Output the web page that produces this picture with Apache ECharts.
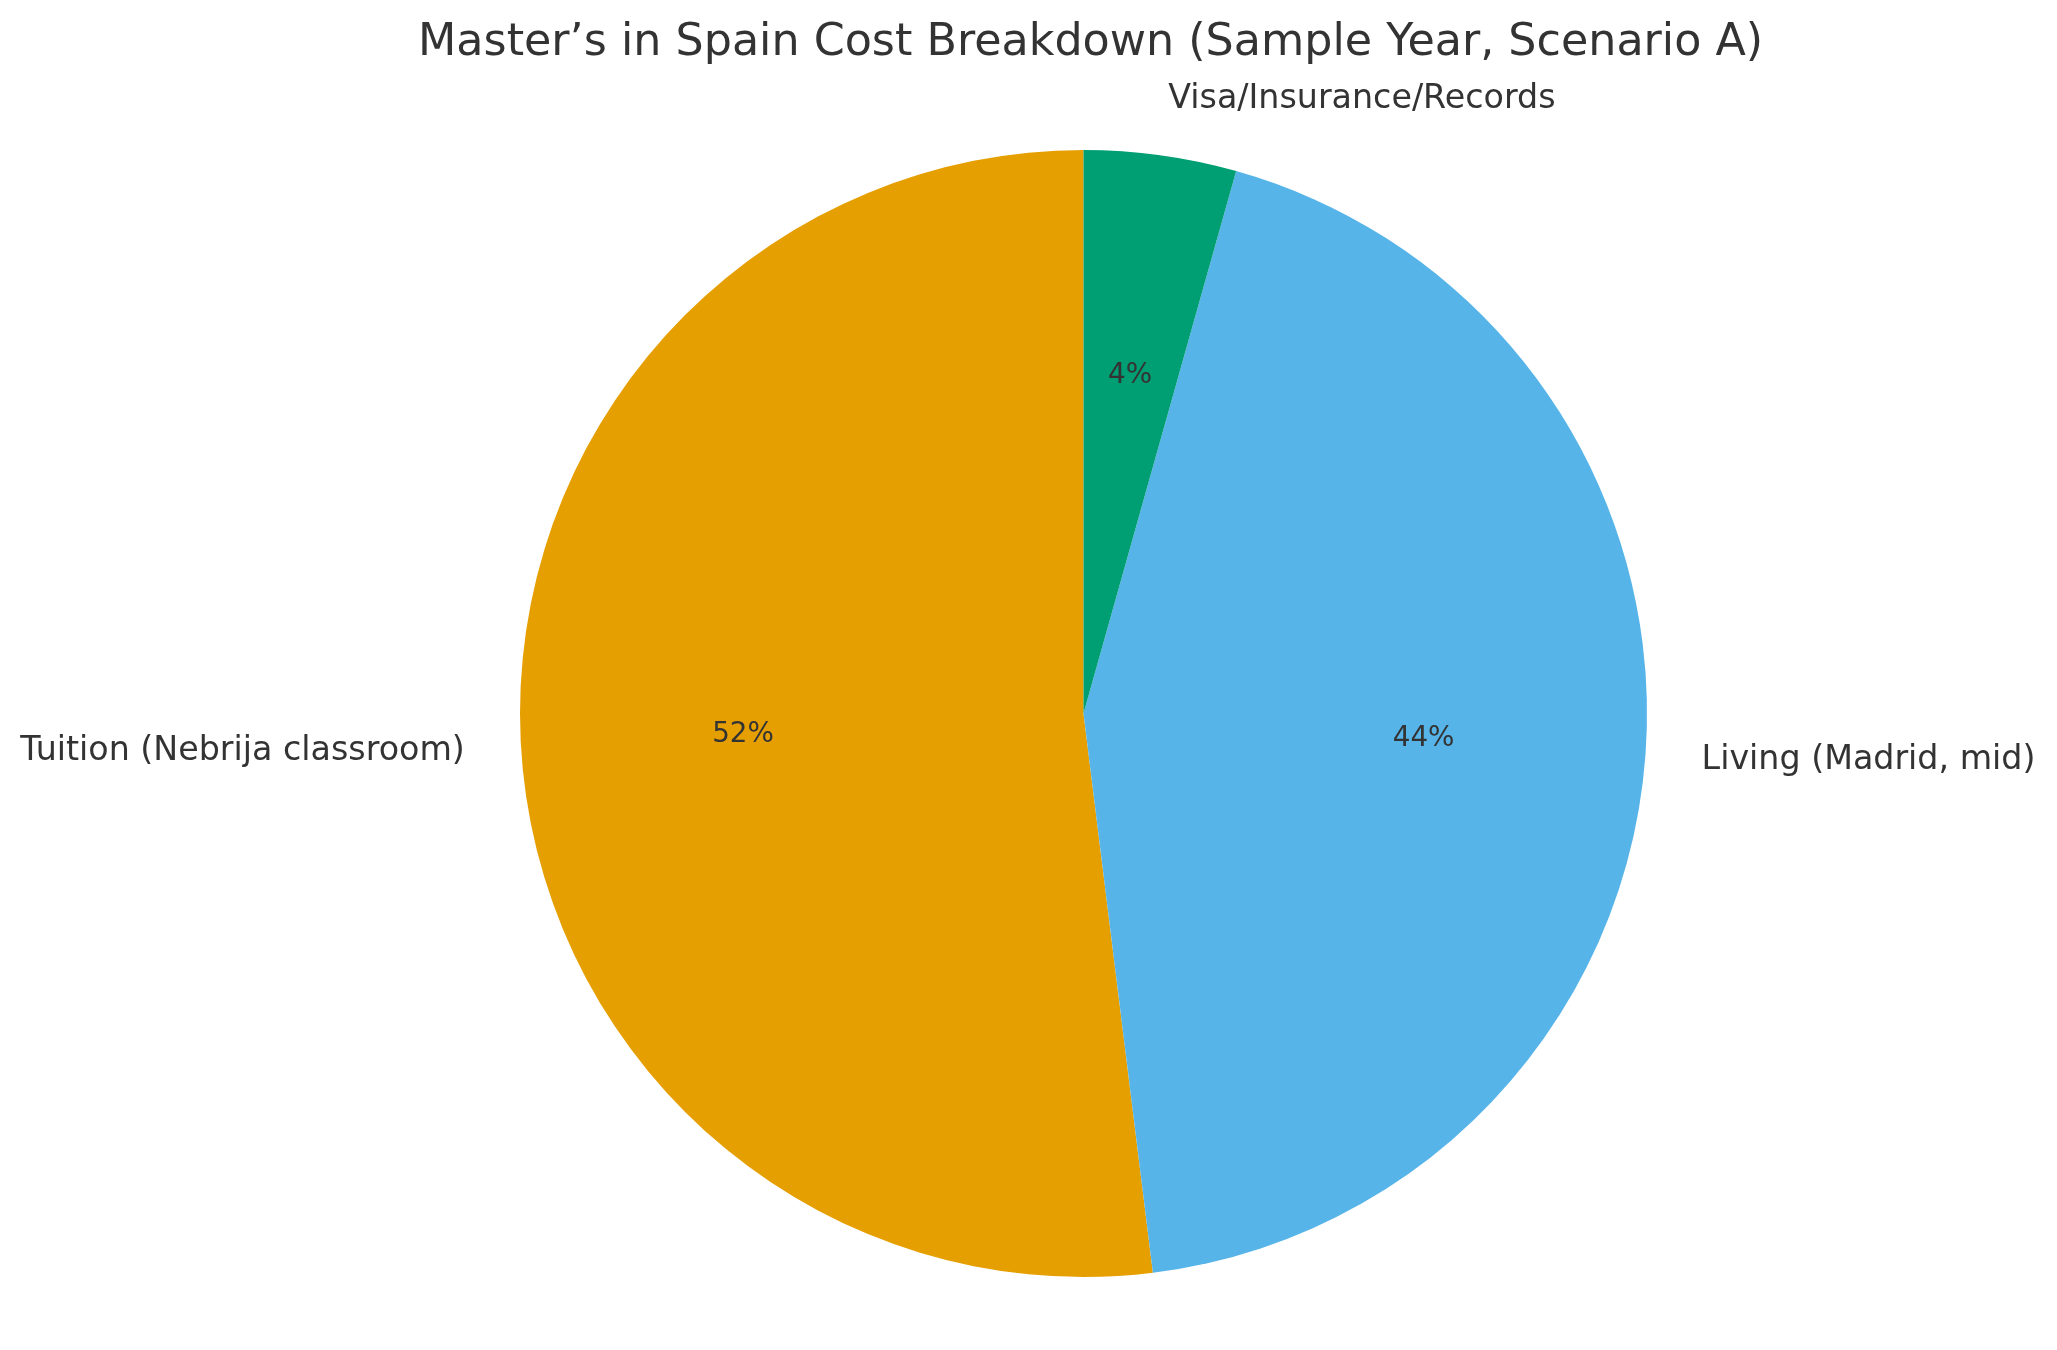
<!DOCTYPE html>
<html>
<head>
<meta charset="utf-8">
<title>Master’s in Spain Cost Breakdown</title>
<script src="https://cdn.jsdelivr.net/npm/echarts@6/dist/echarts.min.js"></script>
<style>
  html, body { margin: 0; padding: 0; background: #fff; }
  #chart { width: 2057px; height: 1350px; }
</style>
</head>
<body>
<div id="chart"></div>
<script>
// cost items (EUR), drawn counter-clockwise from 12 o'clock
var categories = ['Tuition (Nebrija classroom)', 'Living (Madrid, mid)', 'Visa/Insurance/Records'];
var costs = [11900, 10000, 1000];
var colors = ['#E69F00', '#56B4E9', '#009E73'];

var textColor = '#333333';
var fontFamily = 'DejaVu Sans';
var center = [1083.5, 713.5];
var radius = 563.5;

var chart = echarts.init(document.getElementById('chart'));

var pieData = categories.map(function(name, i) {
  return { name: name, value: costs[i], itemStyle: { color: colors[i] } };
});

var option = {
  backgroundColor: '#ffffff',
  animation: false,
  title: {
    text: 'Master’s in Spain Cost Breakdown (Sample Year, Scenario A)',
    // centred over the pie, not the page
    left: 413,
    top: 16,
    textStyle: {
      color: textColor,
      fontFamily: fontFamily,
      fontSize: 44.4,
      fontWeight: 'normal'
    }
  },
  series: [{
    // wedges + category labels at 1.1 r
    type: 'pie',
    center: center,
    radius: [0, radius],
    startAngle: 90,
    clockwise: false,
    avoidLabelOverlap: false,
    silent: true,
    data: pieData,
    itemStyle: { borderWidth: 0 },
    label: {
      show: true,
      position: 'outside',
      formatter: '{b}',
      color: textColor,
      fontFamily: fontFamily,
      fontSize: 33.3,
      distanceToLabelLine: 0
    },
    labelLine: { show: false, length: radius * 0.1, length2: 0 }
  }, {
    // invisible ring, only used to put the percentages at 0.6 r
    type: 'pie',
    center: center,
    radius: [0, radius * 1.2],
    startAngle: 90,
    clockwise: false,
    avoidLabelOverlap: false,
    silent: true,
    z: 3,
    data: categories.map(function(name, i) {
      return { name: name, value: costs[i] };
    }),
    itemStyle: { color: 'rgba(0,0,0,0)', borderWidth: 0 },
    label: {
      show: true,
      position: 'inside',
      formatter: function(p) {
        return Math.round(p.percent) + '%';
      },
      color: textColor,
      fontFamily: fontFamily,
      fontSize: 27.8
    },
    labelLine: { show: false }
  }]
};

chart.setOption(option);
</script>
</body>
</html>
